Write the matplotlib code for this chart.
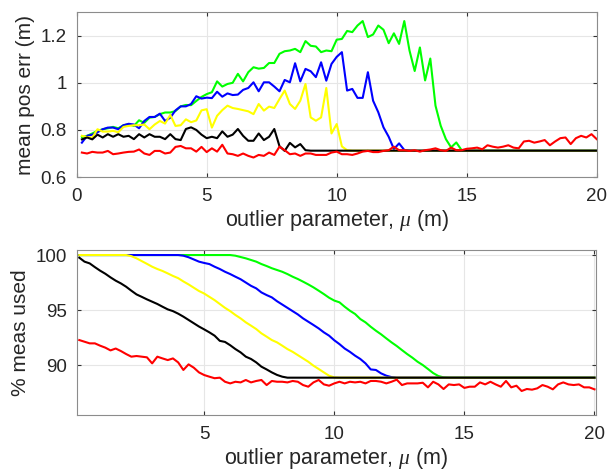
import numpy as np
import matplotlib
matplotlib.use("Agg")
import matplotlib.pyplot as plt
from matplotlib.ticker import FuncFormatter

# outlier parameter mu (m)
mu = np.linspace(0.2, 20, 100)

# top panel: mean position error (m)
err_green = [0.770, 0.775, 0.785, 0.796, 0.803, 0.807, 0.813, 0.807, 0.820, 0.824,
             0.817, 0.841, 0.830, 0.852, 0.855, 0.867, 0.874, 0.874, 0.880, 0.900,
             0.906, 0.905, 0.923, 0.940, 0.952,
             0.960, 1.006, 0.984, 0.995, 1.000, 1.038, 1.006, 1.045, 1.066, 1.060,
             1.063, 1.084, 1.084, 1.123, 1.134, 1.137, 1.144, 1.130, 1.177, 1.157,
             1.154, 1.130, 1.137, 1.134, 1.183,
             1.186, 1.220, 1.215, 1.243, 1.262, 1.194, 1.205, 1.243, 1.225, 1.168,
             1.210, 1.165, 1.262, 1.137, 1.050, 1.150, 1.010, 1.103, 0.903, 0.818,
             0.761, 0.726, 0.747, 0.715, 0.712] + [0.712] * 25
err_blue = [0.746, 0.775, 0.780, 0.790, 0.803, 0.810, 0.810, 0.803, 0.820, 0.826,
            0.823, 0.807, 0.838, 0.855, 0.855, 0.869, 0.838, 0.852, 0.883, 0.900,
            0.900, 0.910, 0.943, 0.933, 0.937,
            0.935, 0.962, 0.941, 0.955, 0.948, 0.950, 0.970, 0.978, 1.002, 0.964,
            1.002, 1.002, 0.984, 0.964, 1.012, 1.002, 1.083, 1.006, 1.059, 1.049,
            1.024, 1.087, 1.009, 1.080, 1.110,
            1.130, 0.967, 0.974, 0.936, 0.936, 1.045, 0.924, 0.875, 0.811, 0.771,
            0.719, 0.743, 0.715, 0.713] + [0.712] * 36
err_yellow = [0.775, 0.770, 0.767, 0.803, 0.793, 0.793, 0.796, 0.790, 0.813, 0.817,
              0.820, 0.820, 0.823, 0.803, 0.823, 0.838, 0.827, 0.864, 0.817, 0.820,
              0.845, 0.833, 0.840, 0.883, 0.888,
              0.810, 0.860, 0.884, 0.903, 0.893, 0.889, 0.884, 0.879, 0.867, 0.910,
              0.882, 0.899, 0.893, 0.931, 0.967, 0.910, 0.889, 0.924, 0.995, 0.853,
              0.839, 0.853, 0.978, 0.785, 0.825,
              0.730, 0.714] + [0.712] * 48
err_black = [0.760, 0.768, 0.760, 0.780, 0.768, 0.782, 0.771, 0.782, 0.771, 0.775,
             0.761, 0.782, 0.768, 0.782, 0.771, 0.771, 0.761, 0.782, 0.761, 0.757,
             0.804, 0.811, 0.800, 0.780, 0.765,
             0.771, 0.765, 0.794, 0.771, 0.780, 0.804, 0.775, 0.754, 0.754, 0.785,
             0.757, 0.771, 0.804, 0.731, 0.711, 0.745, 0.726, 0.740, 0.714] + [0.712] * 56
err_red = [0.704, 0.700, 0.707, 0.704, 0.704, 0.711, 0.697, 0.700, 0.704, 0.707,
           0.708, 0.717, 0.700, 0.694, 0.711, 0.711, 0.700, 0.704, 0.728, 0.732,
           0.722, 0.722, 0.708, 0.728, 0.706,
           0.722, 0.708, 0.737, 0.700, 0.697, 0.690, 0.700, 0.690, 0.683, 0.694,
           0.690, 0.704, 0.694, 0.729, 0.714, 0.697, 0.700, 0.690, 0.700, 0.700,
           0.694, 0.694, 0.694, 0.704, 0.708,
           0.697, 0.697, 0.694, 0.700, 0.708, 0.711, 0.706, 0.706, 0.711, 0.714,
           0.729, 0.714, 0.714, 0.711, 0.714, 0.708, 0.714, 0.717, 0.722, 0.714,
           0.711, 0.725, 0.714, 0.714, 0.720,
           0.722, 0.725, 0.718, 0.735, 0.729, 0.725, 0.729, 0.735, 0.725, 0.722,
           0.751, 0.754, 0.746, 0.751, 0.757, 0.735, 0.751, 0.765, 0.768, 0.740,
           0.765, 0.775, 0.768, 0.782, 0.761]

# bottom panel: % of measurements used
used_green = [100.0] * 30 + [
    99.94, 99.82, 99.70, 99.55, 99.40, 99.18, 99.00, 98.80, 98.64, 98.48,
    98.27, 98.03, 97.82, 97.58, 97.33, 97.06, 96.76, 96.45, 96.12, 95.86,
    95.70, 95.30, 94.94, 94.64, 94.18, 93.88, 93.48, 93.12, 92.79, 92.42,
    92.06, 91.73, 91.36, 91.00, 90.67, 90.30, 90.00, 89.64, 89.27, 89.00,
    88.88] + [88.85] * 29
used_blue = [100.0] * 20 + [
    99.94, 99.80, 99.60, 99.40, 99.28,
    99.18, 98.94, 98.73, 98.48, 98.27, 98.03, 97.80, 97.50, 97.20, 96.97,
    96.60, 96.36, 96.15, 95.80, 95.50, 95.20, 94.90, 94.60, 94.24, 93.94,
    93.64, 93.33, 92.97, 92.67, 92.25,
    91.90, 91.50, 91.20, 90.85, 90.55, 90.15, 89.60, 89.55, 89.24, 89.03,
    88.90] + [88.85] * 39
used_yellow = [100.0] * 10 + [
    99.90, 99.70, 99.45, 99.20, 98.94, 98.73, 98.55, 98.33, 98.10, 97.90,
    97.60, 97.33, 97.03, 96.73, 96.50,
    96.20, 95.90, 95.55, 95.20, 94.90, 94.55, 94.24, 93.88, 93.58, 93.27,
    92.88, 92.58, 92.27, 92.06, 91.76, 91.45, 91.20, 90.90, 90.60, 90.30,
    89.94, 89.64, 89.33, 89.03, 88.88] + [88.85] * 50
used_black = [99.76, 99.40, 99.24, 98.90, 98.58, 98.30, 97.97, 97.67, 97.42, 97.12,
              96.76, 96.42, 96.20, 95.97, 95.76, 95.55, 95.30, 95.06, 94.90, 94.67,
              94.40, 94.10, 93.80, 93.50, 93.24,
              92.97, 92.67, 92.20, 92.10, 91.80, 91.45, 91.15, 90.76, 90.55, 90.24,
              89.85, 89.60, 89.33, 89.10, 88.94] + [88.85] * 60
used_red = [92.27, 92.12, 91.97, 91.97, 91.76, 91.58, 91.33, 91.50, 91.27, 91.00,
            90.76, 90.82, 90.76, 90.70, 90.15, 90.76, 90.60, 90.45, 90.60, 90.24,
            89.55, 90.06, 89.76, 89.33, 89.09,
            88.94, 88.80, 88.85, 88.48, 88.33, 88.48, 88.42, 88.64, 88.42, 88.55,
            88.64, 88.18, 88.55, 88.48, 88.48, 88.42, 88.55, 88.48, 88.18, 88.03,
            88.42, 88.64, 88.24, 88.12, 88.33,
            88.48, 88.33, 88.48, 88.42, 88.48, 88.33, 88.55, 88.55, 88.48, 88.33,
            88.48, 88.67, 88.18, 88.33, 88.33, 88.33, 88.39, 87.97, 88.48, 88.24,
            87.82, 88.24, 88.18, 88.24, 87.92,
            88.03, 88.03, 88.42, 88.24, 88.48, 88.24, 88.03, 88.55, 87.97, 88.12,
            87.64, 87.82, 87.76, 87.88, 88.18, 88.03, 87.79, 88.24, 88.42, 88.24,
            88.18, 88.24, 87.97, 87.97, 87.79]

colors = ["#00ff00", "#0000ff", "#ffff00", "#000000", "#ff0000"]
top_series = [err_green, err_blue, err_yellow, err_black, err_red]
bottom_series = [used_green, used_blue, used_yellow, used_black, used_red]

plt.rcParams["font.family"] = ["Liberation Sans", "DejaVu Sans"]
plt.rcParams["mathtext.fontset"] = "custom"
plt.rcParams["mathtext.it"] = "Liberation Serif:italic"

fig = plt.figure(figsize=(6.10, 4.76), dpi=100)
ax1 = fig.add_axes([0.1257, 0.628, 0.8525, 0.3466])
ax2 = fig.add_axes([0.1257, 0.128, 0.851, 0.3466])

for c, y in zip(colors, top_series):
    ax1.plot(mu, y, color=c, lw=1.5)
for c, y in zip(colors, bottom_series):
    ax2.plot(mu, y, color=c, lw=1.5)

ax1.set_xlim(0, 20)
ax1.set_ylim(0.6, 1.3)
ax1.set_xticks([0, 5, 10, 15, 20])
ax1.set_yticks([0.6, 0.8, 1.0, 1.2])
ax1.yaxis.set_major_formatter(FuncFormatter(lambda v, p: f"{v:g}"))
ax1.set_ylabel("mean pos err (m)", fontsize=15)
ax1.set_xlabel(r"outlier parameter, $\mu$ (m)", fontsize=15.5, labelpad=2)

ax2.set_xlim(0.1, 20.05)
ax2.set_ylim(85.45, 100.45)
ax2.set_xticks([5, 10, 15, 20])
ax2.set_yticks([90, 95, 100])
ax2.set_ylabel("% meas used", fontsize=15)
ax2.set_xlabel(r"outlier parameter, $\mu$ (m)", fontsize=15.5, labelpad=2)

for ax in (ax1, ax2):
    ax.grid(True, color="#e6e6e6", lw=0.8)
    ax.set_axisbelow(True)
    ax.tick_params(direction="in", length=3, labelsize=13.5, top=True, right=True,
                   color="#333333", labelcolor="#262626")
    ax.tick_params(axis="x", pad=8)
    ax.tick_params(axis="y", pad=7)
    for s in ax.spines.values():
        s.set_color("#8c8c8c")
        s.set_linewidth(0.8)
    ax.xaxis.label.set_color("#262626")
    ax.yaxis.label.set_color("#262626")

fig.savefig("out.png", dpi=100)
